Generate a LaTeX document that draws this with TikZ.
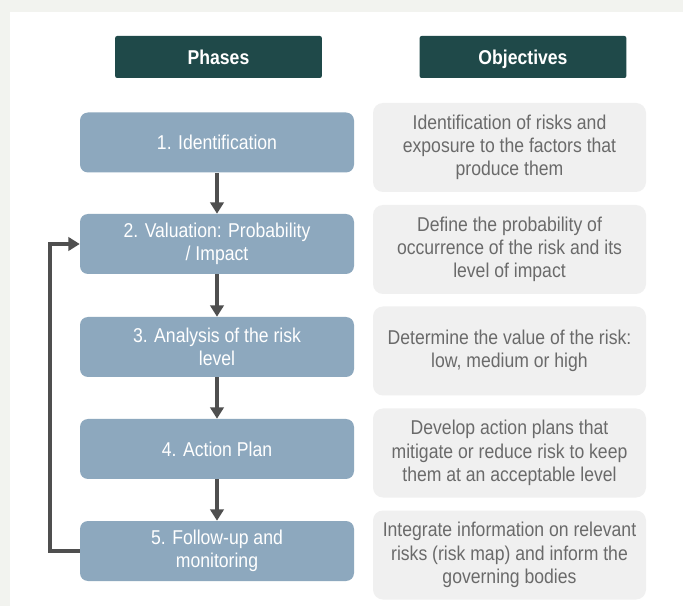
\documentclass[tikz,border=0pt]{standalone}
\usepackage{fontspec}
\setmainfont{Liberation Sans}[FakeStretch=0.88]
\usetikzlibrary{arrows.meta}
\definecolor{headteal}{HTML}{1F4949}
\definecolor{phaseblue}{HTML}{8DA8BE}
\definecolor{objgray}{HTML}{F0F0F0}
\definecolor{objtext}{HTML}{6A6A6A}
\definecolor{arrowgray}{HTML}{4F4F4F}
\definecolor{pagebg}{HTML}{F2F3EF}

\begin{document}
\begin{tikzpicture}[x=0.75pt,y=-0.75pt,
  head/.style={fill=headteal,rounded corners=1.5pt,text=white,font=\fontsize{15}{17}\selectfont\bfseries,minimum width=155pt,minimum height=31.5pt,inner sep=0pt,text height=10.8pt,text depth=0pt},
  phase/.style={fill=phaseblue,rounded corners=6pt,text=white,font=\fontsize{15}{17.4}\selectfont,align=center,minimum width=205.5pt,minimum height=45pt,inner sep=0pt},
  objective/.style={fill=objgray,rounded corners=7.5pt,text=objtext,font=\fontsize{15}{17.4}\selectfont,align=center,minimum width=204.75pt,minimum height=66.75pt,inner sep=0pt},
  flow/.style={line width=3pt,arrowgray,-{Triangle[width=10pt,length=8.5pt]}}]
\fill[pagebg] (0,0) rectangle (683,606);
\fill[white] (10,12) rectangle (683,606);
\node[head] (phases) at (218.5,57) {Phases};
\node[head] (objectives) at (523,57) {Objectives};
\node[phase] (p1) at (217,142.5) {1. Identification};
\node[phase] (p2) at (217,244) {2. Valuation: Probability\\/ Impact};
\node[phase] (p3) at (217,347) {3. Analysis of the risk\\level};
\node[phase] (p4) at (217,449) {4. Action Plan};
\node[phase] (p5) at (217,551) {5. Follow-up and\\monitoring};
\node[objective] (o1) at (509.5,147.5) {Identification of risks and\\exposure to the factors that\\produce them};
\node[objective] (o2) at (509.5,249.5) {Define the probability of\\occurrence of the risk and its\\level of impact};
\node[objective] (o3) at (509.5,351) {Determine the value of the risk:\\low, medium or high};
\node[objective] (o4) at (509.5,453) {Develop action plans that\\mitigate or reduce risk to keep\\them at an acceptable level};
\node[objective] (o5) at (509.5,555) {Integrate information on relevant\\risks (risk map) and inform the\\governing bodies};
\foreach \a/\b in {p1/p2,p2/p3,p3/p4,p4/p5}
  \draw[flow] (\a.south) -- (\b.north);
\draw[flow] (p5.west) -- ++(-30,0) |- (p2.west);
\end{tikzpicture}
\end{document}
